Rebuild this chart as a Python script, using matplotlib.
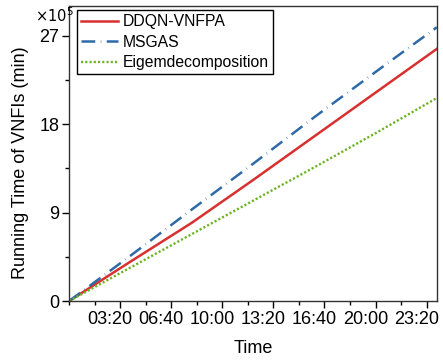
import matplotlib
matplotlib.use("Agg")
import matplotlib.pyplot as plt
import matplotlib.transforms as mtransforms
from matplotlib.ticker import FixedLocator, MultipleLocator

plt.rcParams['font.family'] = ['Liberation Sans', 'DejaVu Sans']

# time in minutes
time_min = [0, 240, 480, 720, 960, 1200, 1440]
ddqn = [0, 4.0, 7.95, 12.3, 16.75, 21.2, 25.65]
msgas = [0, 4.6, 9.3, 13.95, 18.7, 23.3, 27.85]
eigen = [0, 3.4, 6.8, 10.2, 13.6, 17.07, 20.65]

xticks = [200, 400, 600, 800, 1000, 1200, 1400]
xticklabels = ["03:20", "06:40", "10:00", "13:20", "16:40", "20:00", "23:20"]
yticks = [0, 9, 18, 27]

fig = plt.figure(figsize=(4.43, 3.62), dpi=100)
ax = fig.add_axes([0.156, 0.1685, 0.830, 0.8145])

ax.plot(time_min, ddqn, color='#d7302f', lw=1.8, label='DDQN-VNFPA')
ax.plot(time_min, msgas, color='#2f6aa8', lw=1.8, ls=(0, (5.5, 2.2, 0.2, 2.2)), label='MSGAS')
ax.plot(time_min, eigen, color='#6bb320', lw=1.7, ls=(0, (0.9, 0.9)), label='Eigemdecomposition')

ax.set_xlim(0, 1440)
ax.set_ylim(0, 30)
ax.set_xticks(xticks)
ax.set_xticklabels(xticklabels)
ax.xaxis.set_minor_locator(FixedLocator([0, 100, 300, 500, 700, 900, 1100, 1300]))
ax.set_yticks(yticks)
ax.yaxis.set_minor_locator(MultipleLocator(4.5))
ax.tick_params(axis='both', which='major', direction='out', length=5, width=1, labelsize=13, pad=2)
ax.tick_params(axis='both', which='minor', direction='out', length=3, width=1)
for s in ax.spines.values():
    s.set_linewidth(1.0)
    s.set_color('#333333')

# shift x tick labels slightly left, as in the reference
offset = mtransforms.ScaledTranslation(-10 / 100, 0, fig.dpi_scale_trans)
for lab in ax.get_xticklabels():
    lab.set_transform(lab.get_transform() + offset)

ax.set_xlabel('Time', fontsize=13, labelpad=9)
ax.set_ylabel('Running Time of VNFIs (min)', fontsize=13)
ax.yaxis.set_label_coords(-0.11, 0.47)

fig.text(0.08, 0.957, r'$\times10^5$', fontsize=10.5, ha='left', va='center', family='DejaVu Serif')

leg = ax.legend(loc='upper left', fontsize=11.3, frameon=True, fancybox=False,
                edgecolor='black', framealpha=1, handlelength=2.35, handletextpad=0.3,
                borderpad=0.25, labelspacing=0.35, borderaxespad=0.0,
                bbox_to_anchor=(0.022, 0.986))
leg.get_frame().set_linewidth(1.0)

fig.savefig('out.png', dpi=100)
